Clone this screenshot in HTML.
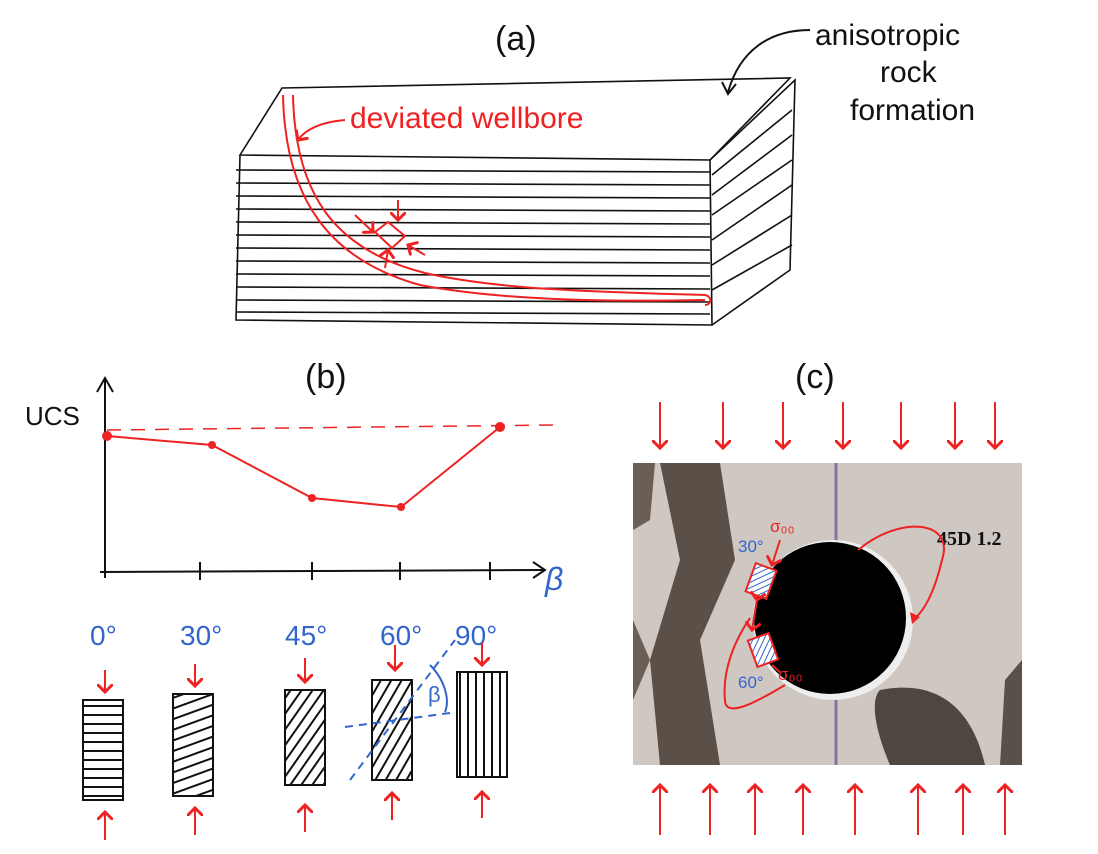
<!DOCTYPE html>
<html><head><meta charset="utf-8"><style>
html,body{margin:0;padding:0;background:#fff;}
svg{display:block}
.h{font-family:"Liberation Sans",sans-serif;}
</style></head><body>
<svg width="1098" height="854" viewBox="0 0 1098 854" xmlns="http://www.w3.org/2000/svg">
<defs>
<marker id="ar" markerWidth="8" markerHeight="8" refX="4" refY="4" orient="auto"><path d="M0,0 L4,4 L0,8" fill="none" stroke="#e22" stroke-width="1.5"/></marker>
<pattern id="hb" width="5" height="5" patternUnits="userSpaceOnUse" patternTransform="rotate(45)"><rect width="5" height="5" fill="#fff"/><line x1="0" y1="0" x2="0" y2="5" stroke="#36c" stroke-width="2"/></pattern>
</defs>
<g font-family="Liberation Sans, sans-serif" fill="#111">
<text x="495" y="50" font-size="34">(a)</text>
<text x="305" y="388" font-size="34">(b)</text>
<text x="795" y="388" font-size="34">(c)</text>
<text x="815" y="45" font-size="30">anisotropic</text>
<text x="880" y="82" font-size="30">rock</text>
<text x="850" y="120" font-size="30">formation</text>
<text x="25" y="425" font-size="26">UCS</text>
</g>
<path d="M810,30 C770,30 740,50 728,92" fill="none" stroke="#111" stroke-width="2"/>
<path d="M722,82 L728,94 L736,84" fill="none" stroke="#111" stroke-width="2"/>
<!-- block -->
<g stroke="#111" stroke-width="1.6" fill="none">
<path d="M240,155 L282,88 L790,78 L710,160 Z"/>
<path d="M710,160 L795,80 L790,270 L712,325"/>
<path d="M240,155 L236,320 L712,325 L710,160"/>
<g>
<line x1="236" y1="170" x2="710" y2="172"/><line x1="236" y1="183" x2="710" y2="185"/>
<line x1="236" y1="196" x2="710" y2="198"/><line x1="236" y1="209" x2="710" y2="211"/>
<line x1="236" y1="222" x2="710" y2="224"/><line x1="236" y1="235" x2="710" y2="237"/>
<line x1="236" y1="248" x2="710" y2="250"/><line x1="236" y1="261" x2="710" y2="263"/>
<line x1="236" y1="274" x2="710" y2="276"/><line x1="236" y1="287" x2="710" y2="289"/>
<line x1="236" y1="300" x2="710" y2="302"/><line x1="236" y1="312" x2="710" y2="314"/>
<line x1="712" y1="175" x2="792" y2="110"/><line x1="712" y1="195" x2="792" y2="135"/>
<line x1="712" y1="215" x2="792" y2="160"/><line x1="712" y1="240" x2="792" y2="185"/>
<line x1="712" y1="265" x2="792" y2="215"/><line x1="712" y1="290" x2="792" y2="245"/>
</g></g>
<!-- wellbore -->
<g stroke="#e22" stroke-width="2" fill="none">
<path d="M283,95 C285,200 330,260 420,285 C500,300 600,302 705,300"/>
<path d="M293,95 C295,195 335,250 425,273 C500,290 600,292 705,295"/>
<path d="M705,295 C712,296 712,305 705,305"/>
<path d="M345,120 C320,122 305,130 298,140" marker-end="url(#ar)"/>
<path d="M375,232 L388,222 L405,236 L392,248 Z"/>
<path d="M398,200 L398,220" marker-end="url(#ar)"/>
<path d="M355,215 L373,232" marker-end="url(#ar)"/>
<path d="M425,255 L408,245" marker-end="url(#ar)"/>
<path d="M385,268 L388,250" marker-end="url(#ar)"/>
</g>
<text x="350" y="128" font-family="Liberation Sans, sans-serif" font-size="30" fill="#e22">deviated wellbore</text>
<!-- graph -->
<g stroke="#111" stroke-width="2" fill="none">
<path d="M105,378 L105,578"/><path d="M97,392 L105,378 L113,392"/>
<path d="M100,572 L545,570"/><path d="M533,562 L545,570 L533,578"/>
<path d="M200,562 V580 M312,562 V580 M400,562 V580 M490,562 V580"/>
</g>
<text x="545" y="590" font-family="Liberation Sans, sans-serif" font-size="32" fill="#36c" font-style="italic">β</text>
<path d="M107,430 L555,425" stroke="#e22" stroke-width="1.5" stroke-dasharray="14,10" fill="none"/>
<polyline points="107,436 212,445 312,498 401,507 500,427" stroke="#e22" stroke-width="2" fill="none"/>
<g fill="#e22"><circle cx="107" cy="436" r="5"/><circle cx="212" cy="445" r="4"/><circle cx="312" cy="498" r="4"/><circle cx="401" cy="507" r="4"/><circle cx="500" cy="427" r="5"/></g>
<g font-family="Liberation Sans, sans-serif" font-size="28" fill="#36c">
<text x="90" y="645">0°</text><text x="180" y="645">30°</text><text x="285" y="645">45°</text><text x="380" y="645">60°</text><text x="455" y="645">90°</text>
</g>
<!-- specimens -->
<defs>
<pattern id="h0" width="40" height="9" patternUnits="userSpaceOnUse"><line x1="0" y1="4" x2="40" y2="4" stroke="#111" stroke-width="2"/></pattern>
<pattern id="h30" width="10" height="10" patternUnits="userSpaceOnUse" patternTransform="rotate(-20)"><line x1="0" y1="5" x2="10" y2="5" stroke="#111" stroke-width="2"/></pattern>
<pattern id="h45" width="9" height="9" patternUnits="userSpaceOnUse" patternTransform="rotate(-55)"><line x1="0" y1="4" x2="9" y2="4" stroke="#111" stroke-width="2"/></pattern>
<pattern id="h60" width="9" height="9" patternUnits="userSpaceOnUse" patternTransform="rotate(-60)"><line x1="0" y1="4" x2="9" y2="4" stroke="#111" stroke-width="2"/></pattern>
<pattern id="h90" width="8" height="8" patternUnits="userSpaceOnUse"><line x1="4" y1="0" x2="4" y2="8" stroke="#111" stroke-width="2"/></pattern>
</defs>
<g stroke="#111" stroke-width="2">
<rect x="83" y="700" width="40" height="100" fill="url(#h0)"/>
<rect x="173" y="694" width="40" height="102" fill="url(#h30)"/>
<rect x="285" y="690" width="40" height="95" fill="url(#h45)"/>
<rect x="372" y="680" width="40" height="100" fill="url(#h60)"/>
<rect x="457" y="672" width="50" height="105" fill="url(#h90)"/>
</g>
<g stroke="#36c" stroke-width="2" fill="none" stroke-dasharray="8,6">
<path d="M345,727 L450,713"/><path d="M350,780 L455,640"/>
</g>
<path d="M430,665 C445,680 450,700 445,712" stroke="#36c" stroke-width="2" fill="none"/>
<text x="428" y="702" font-family="Liberation Sans, sans-serif" font-size="22" fill="#36c">β</text>
<g stroke="#e22" stroke-width="2" fill="none" marker-end="url(#ar)">
<path d="M105,670 V692"/><path d="M195,664 V686"/><path d="M305,658 V682"/><path d="M395,645 V670"/><path d="M482,642 V665"/>
<path d="M105,840 V812"/><path d="M195,835 V808"/><path d="M305,832 V805"/><path d="M392,820 V793"/><path d="M482,818 V792"/>
</g>
<!-- photo -->
<rect x="633" y="463" width="389" height="302" fill="#cfc8c2"/>
<path d="M660,463 L720,463 L735,560 L700,640 L720,765 L660,765 L650,660 L680,560 Z" fill="#5a5048"/>
<path d="M633,463 L655,463 L650,520 L633,530 Z" fill="#6a5e55"/>
<path d="M880,690 C930,680 970,700 985,765 L890,765 C875,730 870,700 880,690 Z" fill="#4e4640"/>
<path d="M1005,680 L1022,660 L1022,765 L1000,765 Z" fill="#5a5048"/>
<path d="M633,620 L650,660 L633,700 Z" fill="#6a5e55"/>
<path d="M836,463 V765" stroke="#8a70a0" stroke-width="3"/>
<circle cx="833" cy="620" r="80" fill="#eee"/>
<circle cx="830" cy="618" r="76" fill="#000"/>
<text x="937" y="545" font-family="Liberation Serif, serif" font-weight="bold" font-size="20" fill="#111">45D 1.2</text>
<path d="M858,550 C900,515 955,520 942,560 C935,590 925,610 915,618" stroke="#e22" stroke-width="2" fill="none"/>
<path d="M910,612 L920,617 L912,624 Z" fill="#e22"/>
<path d="M785,685 C760,700 725,720 725,700 C722,670 735,640 750,618" stroke="#e22" stroke-width="2" fill="none"/>
<rect x="750" y="566" width="22" height="30" fill="url(#hb)" stroke="#e22" stroke-width="2" transform="rotate(20 761 581)"/>
<rect x="752" y="636" width="22" height="28" fill="url(#hb)" stroke="#e22" stroke-width="2" transform="rotate(-20 763 650)"/>
<g font-family="Liberation Sans, sans-serif" font-size="17">
<text x="738" y="552" fill="#36c">30°</text><text x="738" y="688" fill="#36c">60°</text>
<text x="770" y="532" fill="#e22">σ₀₀</text><text x="778" y="680" fill="#e22">σ₀₀</text>
</g>
<path d="M780,540 L772,565" stroke="#e22" stroke-width="2" marker-end="url(#ar)"/>
<path d="M780,672 L772,665" stroke="#e22" stroke-width="2"/>
<path d="M757,600 L752,630" stroke="#e22" stroke-width="2" marker-end="url(#ar)" marker-start="url(#ar)"/>
<g stroke="#e22" stroke-width="2" fill="none" marker-end="url(#ar)">
<path d="M660,402 V448"/><path d="M723,402 V448"/><path d="M783,402 V448"/><path d="M843,402 V448"/><path d="M901,402 V448"/><path d="M955,402 V448"/><path d="M995,402 V448"/>
<path d="M660,835 V785"/><path d="M710,835 V785"/><path d="M755,835 V785"/><path d="M803,835 V785"/><path d="M855,835 V785"/><path d="M918,835 V785"/><path d="M963,835 V785"/><path d="M1005,835 V785"/>
</g>
</svg>
</body></html>
